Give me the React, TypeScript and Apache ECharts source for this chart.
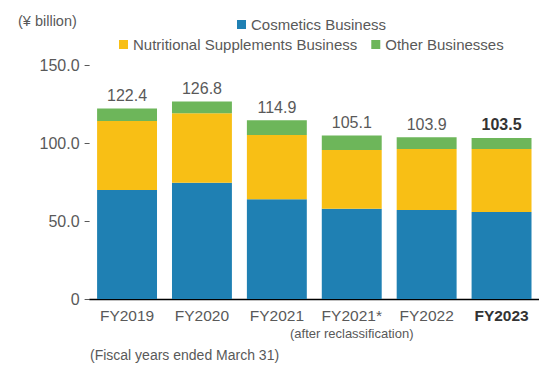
import React, { useEffect, useRef } from "react";
import * as echarts from "echarts";

const categories = ["FY2019", "FY2020", "FY2021", "FY2021*", "FY2022", "FY2023"];
const cosmetics = [70.0, 74.7, 64.0, 58.0, 57.2, 55.9];
const supplements = [44.3, 44.6, 41.3, 37.7, 39.1, 40.4];
const others = [8.1, 7.5, 9.6, 9.4, 7.6, 7.2];
const totals = [122.4, 126.8, 114.9, 105.1, 103.9, 103.5];
const yTicks = [0, 50, 100, 150];

const FONT = "'Liberation Sans', Arial, sans-serif";
const GRAY = "#595959";

export default function App() {
  const ref = useRef<HTMLDivElement>(null);
  useEffect(() => {
    const chart = echarts.init(ref.current!, null, { renderer: "svg" });
    const last = categories.length - 1;
    chart.setOption({
      animation: false,
      textStyle: { fontFamily: FONT },
      legend: [
        {
          data: ["Cosmetics Business"],
          left: 232,
          top: 12,
          itemWidth: 9,
          itemHeight: 9,
          itemGap: 14,
          textStyle: { fontSize: 15, color: GRAY, fontFamily: FONT },
          icon: "rect",
        },
        {
          data: ["Nutritional Supplements Business", "Other Businesses"],
          left: 114,
          top: 32,
          itemWidth: 9,
          itemHeight: 9,
          itemGap: 14,
          textStyle: { fontSize: 15, color: GRAY, fontFamily: FONT },
          icon: "rect",
        },
      ],
      graphic: [
        {
          type: "text",
          left: 18,
          top: 13,
          style: { text: "(¥ billion)", fontSize: 14.5, fill: GRAY, fontFamily: FONT },
        },
        {
          type: "text",
          left: 90,
          top: 348,
          style: { text: "(Fiscal years ended March 31)", fontSize: 14, fill: GRAY, fontFamily: FONT },
        },
      ],
      grid: { left: 89.6, right: -4.8, top: 65.5, bottom: 68 },
      xAxis: {
        type: "category",
        data: categories,
        axisLine: { lineStyle: { color: "#000", width: 1.3 } },
        axisTick: { show: false },
        axisLabel: {
          interval: 0,
          margin: 8,
          color: GRAY,
          fontSize: 15.5,
          lineHeight: 17,
          fontFamily: FONT,
          formatter: (v: string, i: number) => {
            if (i === last) return `{b|${v}}`;
            if (v === "FY2021*") return `${v}\n{s|(after reclassification)}`;
            return v;
          },
          rich: {
            b: { fontWeight: "bold", color: "#333", fontSize: 15.5, fontFamily: FONT },
            s: { fontSize: 13, color: GRAY, lineHeight: 19, fontFamily: FONT },
          },
        },
      },
      yAxis: {
        type: "value",
        min: yTicks[0],
        max: yTicks[yTicks.length - 1],
        interval: 50,
        splitLine: { show: false },
        axisLine: { show: false },
        axisTick: { show: true, length: 5, lineStyle: { color: GRAY } },
        axisLabel: {
          margin: 10,
          color: GRAY,
          fontSize: 16,
          fontFamily: FONT,
          formatter: (v: number) => (v === 0 ? "0" : v.toFixed(1)),
        },
      },
      series: [
        {
          name: "Cosmetics Business",
          type: "bar",
          stack: "t",
          data: cosmetics,
          barWidth: "80%",
          itemStyle: { color: "#1f80b3" },
        },
        {
          name: "Nutritional Supplements Business",
          type: "bar",
          stack: "t",
          data: supplements,
          itemStyle: { color: "#f8bf15" },
        },
        {
          name: "Other Businesses",
          type: "bar",
          stack: "t",
          data: others,
          itemStyle: { color: "#6db65a" },
          label: {
            show: true,
            position: "top",
            distance: 5,
            fontSize: 16,
            fontFamily: FONT,
            color: GRAY,
            formatter: (p: any) =>
              p.dataIndex === last ? `{b|${totals[p.dataIndex].toFixed(1)}}` : totals[p.dataIndex].toFixed(1),
            rich: { b: { fontWeight: "bold", color: "#333", fontSize: 16, fontFamily: FONT } },
          },
        },
      ],
    });
    return () => chart.dispose();
  }, []);
  return <div ref={ref} style={{ width: 539, height: 367, position: "absolute", left: 0, top: 0 }} />;
}
